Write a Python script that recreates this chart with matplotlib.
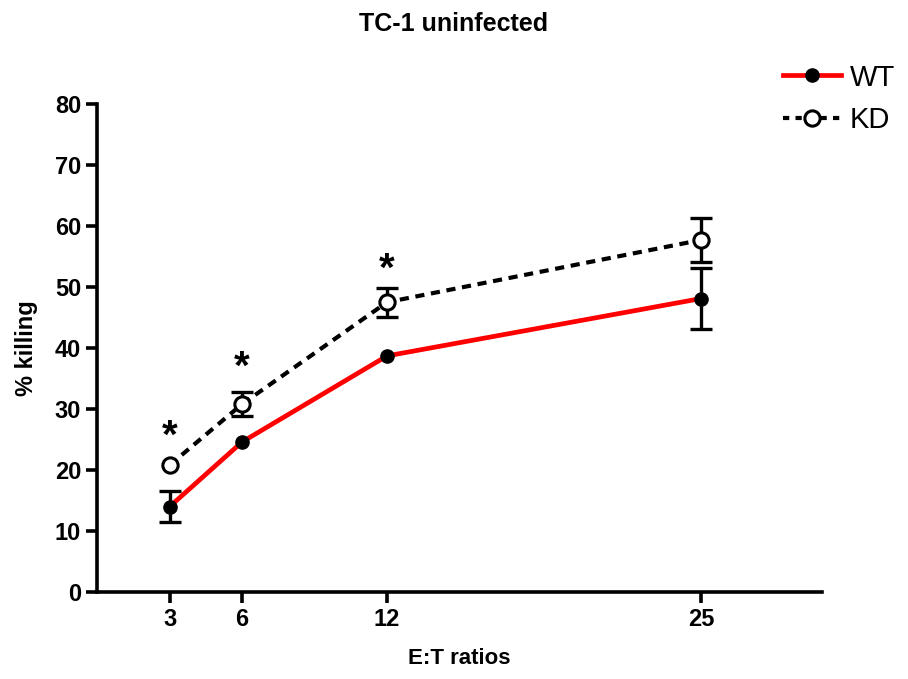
import matplotlib.pyplot as plt
from matplotlib.lines import Line2D

plt.rcParams['font.family'] = ['Liberation Sans', 'DejaVu Sans']

ratios = [3, 6, 12, 25]
wt = [14.0, 24.6, 38.7, 48.1]
wt_err = [2.55, 0.0, 0.0, 5.05]
kd = [20.8, 30.8, 47.5, 57.7]
kd_err = [0.0, 2.0, 2.4, 3.6]
star_x = [3, 6, 12]
star_y = [25.4, 36.8, 52.8]
yticks = [0, 10, 20, 30, 40, 50, 60, 70, 80]

fig = plt.figure(figsize=(9.08, 6.79), dpi=100)
ax = fig.add_axes([0.107, 0.128, 0.798, 0.719])

ax.plot(ratios, wt, color='red', lw=3.4, marker='o', ms=9.5,
        mfc='black', mec='black', zorder=3)
ax.plot(ratios, kd, color='black', lw=3, ls=(0, (2.2, 1.6)),
        marker='o', ms=11, mfc='white', mec='black', mew=2.2, zorder=4)

# error bars only where there is a visible error
for ys, es in [(wt, wt_err), (kd, kd_err)]:
    xs = [x for x, e in zip(ratios, es) if e > 0]
    yv = [y for y, e in zip(ys, es) if e > 0]
    ev = [e for e in es if e > 0]
    ax.errorbar(xs, yv, yerr=ev, fmt='none', ecolor='black', elinewidth=2.4,
                capsize=8, capthick=2.4, zorder=2)

for x, y in zip(star_x, star_y):
    ax.text(x, y, '*', ha='center', va='center', fontsize=29, fontweight='bold')

ax.set_xlim(0, 30)
ax.set_ylim(0, 80)
ax.set_xticks(ratios)
ax.set_yticks(yticks)
ax.tick_params(width=2.6, length=8, labelsize=17, direction='out')
for lab in ax.get_xticklabels() + ax.get_yticklabels():
    lab.set_fontweight('bold')
for s in ['top', 'right']:
    ax.spines[s].set_visible(False)
for s in ['left', 'bottom']:
    ax.spines[s].set_linewidth(2.6)

ax.set_xlabel('E:T ratios', fontsize=16, fontweight='bold', labelpad=12)
ax.set_ylabel('% killing', fontsize=17, fontweight='bold', labelpad=12)
fig.text(0.5, 0.965, 'TC-1 uninfected', ha='center', va='center', fontsize=18,
         fontweight='bold')

handles = [
    Line2D([], [], color='red', lw=3.4, marker='o', ms=9.5, mfc='black', mec='black'),
    Line2D([], [], color='black', lw=3, ls=(0, (1.5, 1.5)), marker='o', ms=11,
           mfc='white', mec='black', mew=2.2),
]
fig.legend(handles, ['WT', 'KD'], loc='upper right', bbox_to_anchor=(1.015, 0.945),
           frameon=False, fontsize=21, handlelength=2.0, handletextpad=0.3,
           labelspacing=0.5)

fig.savefig('out.png', dpi=100)
